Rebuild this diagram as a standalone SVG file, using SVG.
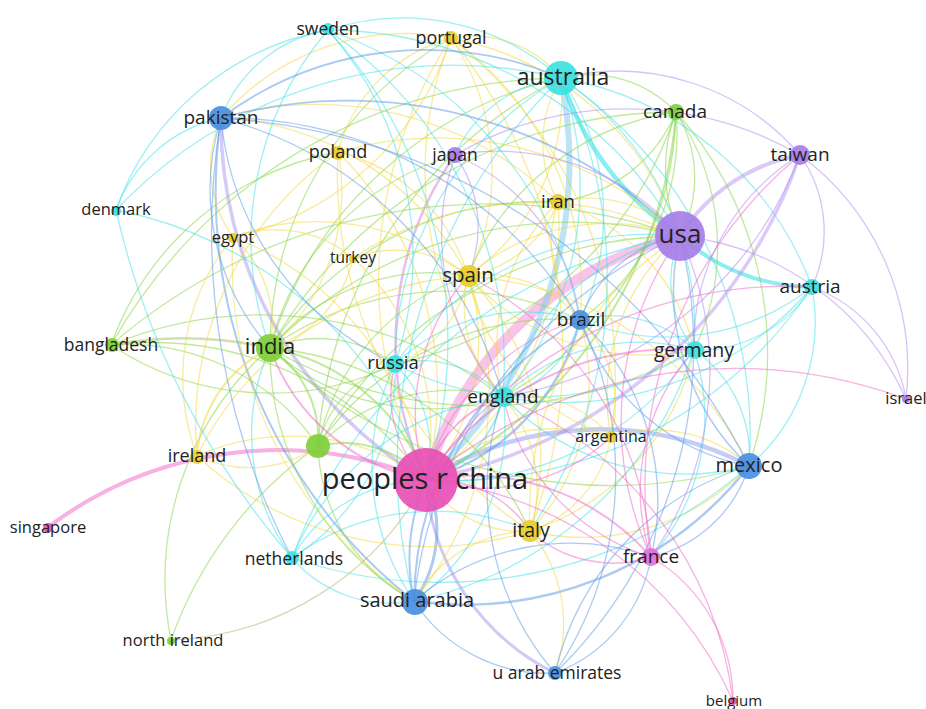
<svg xmlns="http://www.w3.org/2000/svg" width="926" height="709" viewBox="0 0 926 709">
<style>
.e path{fill:none;stroke-width:1.3;stroke-opacity:.5}
.g{stroke:#84d43c}.y{stroke:#f2d83a}.c{stroke:#3ee2ea}.b{stroke:#5a98e6}.p{stroke:#b088f0}.m{stroke:#f064c8}
.n circle{fill-opacity:.92}
.n text{font-family:"Open Sans","Liberation Sans",sans-serif;fill:#222;text-anchor:middle}
.cg{fill:#7fcf3a}.cy{fill:#e8cd2e}.cc{fill:#3fe0e0}.cb{fill:#4a8ee0}.cp{fill:#a67de8}.cm{fill:#e84fb4}.cf{fill:#e070e0}
</style>
<rect width="926" height="709" fill="#fff"/>
<g id="edges" class="e">
<path class="m" style="stroke-width:10;stroke-opacity:.38" d="M426,480A352,352 0 0 1 680,236"/>
<path style="stroke:#7cc8f0;stroke-width:6;stroke-opacity:.5" d="M561,78A424,424 0 0 1 426,480"/>
<path class="c" style="stroke-width:4.5;stroke-opacity:.6" d="M680,236A300,300 0 0 1 561,78"/>
<path class="c" style="stroke-width:4;stroke-opacity:.6" d="M812,287A200,200 0 0 1 680,236"/>
<path class="p" style="stroke-width:4;stroke-opacity:.45" d="M680,236A180,180 0 0 1 800,155"/>
<path class="p" style="stroke-width:3.5;stroke-opacity:.45" d="M800,155A495,495 0 0 1 426,480"/>
<path style="stroke:#b0a0f0;stroke-width:3.5;stroke-opacity:.55" d="M426,480A416,416 0 0 1 221,118"/>
<path class="m" style="stroke-width:4;stroke-opacity:.5" d="M47,528A382,382 0 0 1 426,480"/>
<path style="stroke:#8a9cf0;stroke-width:4.5;stroke-opacity:.5" d="M426,480A323,323 0 0 1 749,466"/>
<path class="b" style="stroke-width:2.5" d="M749,466A361,361 0 0 1 414,601"/>
<path style="stroke:#a8a0f0;stroke-width:3;stroke-opacity:.55" d="M555,673A232,232 0 0 1 426,480"/>
<path class="b" style="stroke-width:3" d="M426,480A121,121 0 0 1 414,601"/>
<path class="b" style="stroke-width:2" d="M414,601A520,520 0 0 1 221,118"/>
<path class="b" style="stroke-width:2.5" d="M580,320A222,222 0 0 1 426,480"/>
<path class="p" style="stroke-width:2.5;stroke:#d080e0" d="M426,480A326,326 0 0 1 455,155"/>
<path class="g" style="stroke-width:2" d="M270,348A204,204 0 0 1 426,480"/>
<path class="g" style="stroke-width:2.5;stroke:#a8c060" d="M111,345A400,400 0 0 1 270,348"/>
<path class="g" d="M270,348A128,128 0 0 1 395,364"/>
<path class="g" d="M270,348A211,211 0 0 1 468,276"/>
<path class="g" d="M270,348A425,425 0 0 1 680,236"/>
<path class="g" d="M270,348A470,470 0 0 1 676,112"/>
<path class="g" d="M270,348A397,397 0 0 1 561,78"/>
<path class="g" d="M503,397A238,238 0 0 1 270,348"/>
<path class="g" d="M270,348A311,311 0 0 1 580,320"/>
<path class="g" d="M414,601A291,291 0 0 1 270,348"/>
<path class="g" d="M270,348A318,318 0 0 1 530,531"/>
<path class="g" d="M694,350A424,424 0 0 1 270,348"/>
<path class="g" style="stroke-width:2" d="M270,348A109,109 0 0 1 318,446"/>
<path class="g" d="M270,348A267,267 0 0 1 455,155"/>
<path class="g" d="M270,348A323,323 0 0 1 558,202"/>
<path class="g" d="M749,466A493,493 0 0 1 270,348"/>
<path class="g" d="M270,348A359,359 0 0 1 451,38"/>
<path class="g" d="M171,640A308,308 0 0 1 270,348"/>
<path class="g" d="M171,640A400,400 0 0 1 318,446"/>
<path class="g" style="stroke:#b0b070" d="M426,480A301,301 0 0 1 171,640"/>
<path class="g" style="stroke-width:2" d="M318,446A110,110 0 0 1 426,480"/>
<path class="g" d="M318,446A112,112 0 0 1 395,364"/>
<path class="g" d="M318,446A191,191 0 0 1 503,397"/>
<path class="g" d="M318,446A418,418 0 0 1 680,236"/>
<path class="g" d="M414,601A182,182 0 0 1 318,446"/>
<path class="g" d="M318,446A227,227 0 0 1 468,276"/>
<path class="g" d="M318,446A291,291 0 0 1 580,320"/>
<path class="g" d="M318,446A441,441 0 0 1 561,78"/>
<path class="g" d="M111,345A343,343 0 0 1 426,480"/>
<path class="g" d="M111,345A395,395 0 0 1 503,397"/>
<path class="g" d="M111,345A579,579 0 0 1 680,236"/>
<path class="g" d="M395,364A285,285 0 0 1 111,345"/>
<path class="g" d="M111,345A523,523 0 0 1 561,78"/>
<path class="g" d="M111,345A230,230 0 0 1 318,446"/>
<path class="g" d="M111,345A300,300 0 0 1 338,152"/>
<path class="g" d="M676,112A124,124 0 0 1 680,236"/>
<path class="g" d="M680,236A160,160 0 0 1 676,112"/>
<path class="g" style="stroke-width:2" d="M676,112A445,445 0 0 1 426,480"/>
<path class="g" d="M561,78A120,120 0 0 1 676,112"/>
<path class="g" d="M676,112A229,229 0 0 1 580,320"/>
<path class="g" d="M676,112A239,239 0 0 1 694,350"/>
<path class="g" d="M468,276A265,265 0 0 1 676,112"/>
<path class="g" d="M676,112A361,361 0 0 1 749,466"/>
<path class="g" d="M676,112A333,333 0 0 1 503,397"/>
<path class="g" d="M676,112A148,148 0 0 1 558,202"/>
<path class="g" d="M676,112A377,377 0 0 1 395,364"/>
<path class="y" d="M468,276A208,208 0 0 1 426,480"/>
<path class="y" d="M468,276A213,213 0 0 1 680,236"/>
<path class="y" d="M561,78A219,219 0 0 1 468,276"/>
<path class="y" d="M468,276A120,120 0 0 1 580,320"/>
<path class="y" d="M468,276A262,262 0 0 1 530,531"/>
<path class="y" d="M503,397A126,126 0 0 1 468,276"/>
<path class="y" d="M468,276A114,114 0 0 1 395,364"/>
<path class="y" d="M451,38A238,238 0 0 1 468,276"/>
<path class="y" d="M558,202A118,118 0 0 1 468,276"/>
<path class="y" d="M468,276A339,339 0 0 1 749,466"/>
<path class="y" d="M694,350A238,238 0 0 1 468,276"/>
<path class="y" d="M468,276A329,329 0 0 1 414,601"/>
<path class="y" d="M221,118A293,293 0 0 1 468,276"/>
<path class="y" d="M197,456A325,325 0 0 1 468,276"/>
<path class="y" d="M233,237A238,238 0 0 1 468,276"/>
<path class="y" d="M530,531A115,115 0 0 1 426,480"/>
<path class="y" d="M530,531A331,331 0 0 1 680,236"/>
<path class="y" d="M580,320A217,217 0 0 1 530,531"/>
<path class="y" d="M503,397A137,137 0 0 1 530,531"/>
<path class="y" d="M414,601A135,135 0 0 1 530,531"/>
<path class="y" d="M749,466A228,228 0 0 1 530,531"/>
<path class="y" d="M530,531A341,341 0 0 1 197,456"/>
<path class="y" d="M451,38A499,499 0 0 1 530,531"/>
<path class="y" d="M611,437A122,122 0 0 1 530,531"/>
<path class="y" d="M530,531A145,145 0 0 1 555,673"/>
<path class="y" d="M694,350A244,244 0 0 1 530,531"/>
<path class="y" d="M558,202A124,124 0 0 1 561,78"/>
<path class="y" d="M558,202A129,129 0 0 1 680,236"/>
<path class="y" d="M558,202A308,308 0 0 1 426,480"/>
<path class="y" d="M221,118A347,347 0 0 1 558,202"/>
<path class="y" d="M580,320A120,120 0 0 1 558,202"/>
<path class="y" d="M558,202A201,201 0 0 1 694,350"/>
<path class="y" d="M503,397A203,203 0 0 1 558,202"/>
<path class="y" d="M451,38A115,115 0 0 1 561,78"/>
<path class="y" d="M426,480A443,443 0 0 1 451,38"/>
<path class="y" d="M451,38A310,310 0 0 1 580,320"/>
<path class="y" d="M451,38A303,303 0 0 1 680,236"/>
<path class="y" d="M221,118A243,243 0 0 1 451,38"/>
<path class="y" d="M451,38A295,295 0 0 1 233,237"/>
<path class="y" d="M503,397A363,363 0 0 1 451,38"/>
<path class="y" d="M338,152A340,340 0 0 1 426,480"/>
<path class="y" d="M338,152A180,180 0 0 1 468,276"/>
<path class="y" d="M530,531A425,425 0 0 1 338,152"/>
<path class="y" d="M338,152A161,161 0 0 1 451,38"/>
<path class="y" d="M338,152A352,352 0 0 1 680,236"/>
<path class="y" d="M197,456A335,335 0 0 1 338,152"/>
<path class="y" d="M338,152A207,207 0 0 1 270,348"/>
<path class="y" d="M233,237A310,310 0 0 1 426,480"/>
<path class="y" d="M414,601A406,406 0 0 1 233,237"/>
<path class="y" d="M233,237A120,120 0 0 1 221,118"/>
<path class="y" d="M233,237A122,122 0 0 1 353,258"/>
<path class="y" d="M197,456A222,222 0 0 1 233,237"/>
<path class="y" d="M233,237A117,117 0 0 1 270,348"/>
<path class="y" d="M353,258A234,234 0 0 1 426,480"/>
<path class="y" d="M353,258A117,117 0 0 1 468,276"/>
<path class="y" d="M353,258A329,329 0 0 1 680,236"/>
<path class="y" d="M353,258A122,122 0 0 1 270,348"/>
<path class="y" d="M197,456A231,231 0 0 1 426,480"/>
<path class="y" d="M318,446A121,121 0 0 1 197,456"/>
<path class="y" style="stroke-width:2.2" d="M197,456A130,130 0 0 1 270,348"/>
<path class="y" d="M426,480A190,190 0 0 1 611,437"/>
<path class="y" d="M611,437A215,215 0 0 1 468,276"/>
<path class="y" d="M611,437A140,140 0 0 1 749,466"/>
<path class="y" d="M580,320A120,120 0 0 1 611,437"/>
<path class="y" d="M503,397A115,115 0 0 1 611,437"/>
<path class="y" d="M611,437A212,212 0 0 1 680,236"/>
<path class="y" d="M451,38A430,430 0 0 1 611,437"/>
<path class="c" d="M221,118A139,139 0 0 1 328,30"/>
<path class="c" d="M116,210A278,278 0 0 1 328,30"/>
<path class="c" d="M328,30A238,238 0 0 1 561,78"/>
<path class="c" d="M328,30A460,460 0 0 1 426,480"/>
<path class="c" d="M328,30A407,407 0 0 1 503,397"/>
<path class="c" d="M270,348A323,323 0 0 1 328,30"/>
<path class="c" d="M328,30A341,341 0 0 1 395,364"/>
<path class="c" d="M328,30A384,384 0 0 1 580,320"/>
<path class="c" d="M328,30A408,408 0 0 1 680,236"/>
<path class="c" d="M116,210A144,144 0 0 1 221,118"/>
<path class="c" d="M116,210A464,464 0 0 1 561,78"/>
<path class="c" d="M116,210A411,411 0 0 1 426,480"/>
<path class="c" d="M292,558A800,800 0 0 1 116,210"/>
<path class="c" d="M561,78A324,324 0 0 1 503,397"/>
<path class="c" d="M561,78A243,243 0 0 1 580,320"/>
<path class="c" d="M561,78A303,303 0 0 1 694,350"/>
<path class="c" d="M414,601A543,543 0 0 1 561,78"/>
<path class="c" d="M561,78A431,431 0 0 1 749,466"/>
<path class="c" d="M561,78A327,327 0 0 1 812,287"/>
<path class="c" d="M455,155A131,131 0 0 1 561,78"/>
<path class="c" d="M395,364A331,331 0 0 1 561,78"/>
<path class="c" d="M561,78A454,454 0 0 1 530,531"/>
<path class="c" style="stroke-width:1.8" d="M503,397A113,113 0 0 1 426,480"/>
<path class="c" d="M503,397A239,239 0 0 1 680,236"/>
<path class="c" d="M580,320A110,110 0 0 1 503,397"/>
<path class="c" d="M503,397A197,197 0 0 1 694,350"/>
<path class="c" d="M749,466A255,255 0 0 1 503,397"/>
<path class="c" d="M503,397A215,215 0 0 1 414,601"/>
<path class="c" d="M395,364A110,110 0 0 1 503,397"/>
<path class="c" d="M812,287A328,328 0 0 1 503,397"/>
<path class="c" d="M395,364A120,120 0 0 1 426,480"/>
<path class="c" d="M395,364A312,312 0 0 1 680,236"/>
<path class="c" d="M694,350A300,300 0 0 1 395,364"/>
<path class="c" d="M395,364A189,189 0 0 1 580,320"/>
<path class="c" d="M414,601A238,238 0 0 1 395,364"/>
<path class="c" d="M395,364A220,220 0 0 1 292,558"/>
<path class="c" d="M694,350A115,115 0 0 1 680,236"/>
<path class="c" d="M694,350A298,298 0 0 1 426,480"/>
<path class="c" d="M580,320A117,117 0 0 1 694,350"/>
<path class="c" d="M694,350A128,128 0 0 1 749,466"/>
<path class="c" d="M812,287A134,134 0 0 1 694,350"/>
<path class="c" d="M694,350A376,376 0 0 1 414,601"/>
<path class="c" d="M694,350A211,211 0 0 1 651,557"/>
<path class="c" d="M812,287A234,234 0 0 1 580,320"/>
<path class="c" d="M812,287A432,432 0 0 1 426,480"/>
<path class="c" d="M812,287A190,190 0 0 1 749,466"/>
<path class="c" d="M292,558A155,155 0 0 1 426,480"/>
<path class="c" d="M414,601A130,130 0 0 1 292,558"/>
<path class="c" d="M292,558A240,240 0 0 1 530,531"/>
<path class="c" d="M292,558A265,265 0 0 1 503,397"/>
<path class="c" d="M292,558A504,504 0 0 1 680,236"/>
<path class="c" d="M749,466A466,466 0 0 1 292,558"/>
<path class="c" d="M292,558A211,211 0 0 1 270,348"/>
<path class="b" style="stroke-width:1.8" d="M221,118A341,341 0 0 1 561,78"/>
<path class="b" style="stroke-width:1.8" d="M221,118A474,474 0 0 1 680,236"/>
<path class="b" d="M221,118A397,397 0 0 1 503,397"/>
<path class="b" d="M221,118A412,412 0 0 1 580,320"/>
<path class="b" d="M395,364A301,301 0 0 1 221,118"/>
<path class="b" d="M270,348A240,240 0 0 1 221,118"/>
<path class="b" d="M221,118A632,632 0 0 1 749,466"/>
<path class="b" d="M292,558A700,700 0 0 1 221,118"/>
<path class="b" style="stroke-width:2" d="M414,601A326,326 0 0 1 580,320"/>
<path class="b" d="M580,320A131,131 0 0 1 680,236"/>
<path class="b" d="M749,466A223,223 0 0 1 580,320"/>
<path class="b" d="M580,320A354,354 0 0 1 555,673"/>
<path class="b" d="M580,320A247,247 0 0 1 651,557"/>
<path class="b" style="stroke-width:2" d="M414,601A200,200 0 0 1 426,480"/>
<path class="b" d="M414,601A452,452 0 0 1 680,236"/>
<path class="b" d="M555,673A158,158 0 0 1 414,601"/>
<path class="b" d="M414,601A241,241 0 0 1 651,557"/>
<path class="b" style="stroke-width:1.5" d="M749,466A240,240 0 0 1 680,236"/>
<path class="b" d="M555,673A284,284 0 0 1 749,466"/>
<path class="b" d="M749,466A134,134 0 0 1 651,557"/>
<path class="b" d="M651,557A151,151 0 0 1 555,673"/>
<path class="b" d="M555,673A281,281 0 0 1 503,397"/>
<path class="b" d="M680,236A454,454 0 0 1 555,673"/>
<path class="p" d="M455,155A239,239 0 0 1 680,236"/>
<path class="p" d="M680,236A279,279 0 0 1 906,399"/>
<path class="p" d="M680,236A322,322 0 0 1 651,557"/>
<path class="p" d="M800,155A133,133 0 0 1 812,287"/>
<path class="p" d="M800,155A266,266 0 0 1 906,399"/>
<path class="p" d="M561,78A240,240 0 0 1 800,155"/>
<path class="p" d="M694,350A222,222 0 0 1 800,155"/>
<path class="p" d="M800,155A383,383 0 0 1 503,397"/>
<path class="p" d="M455,155A345,345 0 0 1 800,155"/>
<path class="p" d="M455,155A207,207 0 0 1 580,320"/>
<path class="p" d="M455,155A124,124 0 0 1 468,276"/>
<path class="p" d="M503,397A245,245 0 0 1 455,155"/>
<path class="p" d="M812,287A146,146 0 0 1 906,399"/>
<path class="m" d="M426,480A487,487 0 0 1 906,399"/>
<path class="m" style="stroke-width:2" d="M426,480A204,204 0 0 1 270,348"/>
<path class="m" style="stroke-width:2" d="M426,480A113,113 0 0 1 503,397"/>
<path class="m" style="stroke-width:1.5" d="M426,480A115,115 0 0 1 530,531"/>
<path class="m" style="stroke-width:2" d="M426,480A238,238 0 0 1 651,557"/>
<path class="m" d="M426,480A222,222 0 0 1 580,320"/>
<path class="m" style="stroke-width:2" d="M426,480A298,298 0 0 1 694,350"/>
<path class="m" d="M426,480A432,432 0 0 1 812,287"/>
<path class="m" d="M426,480A120,120 0 0 1 395,364"/>
<path class="m" d="M426,480A208,208 0 0 1 468,276"/>
<path class="m" d="M611,437A190,190 0 0 1 426,480"/>
<path class="m" d="M426,480A378,378 0 0 1 733,701"/>
<path class="m" d="M651,557A166,166 0 0 1 733,701"/>
<path class="m" d="M503,397A381,381 0 0 1 733,701"/>
<path class="m" style="stroke-width:1.5" d="M651,557A123,123 0 0 1 530,531"/>
<path class="m" d="M651,557A322,322 0 0 1 680,236"/>
<path class="m" d="M651,557A211,211 0 0 1 694,350"/>
<path class="m" d="M651,557A218,218 0 0 1 503,397"/>
<path class="m" d="M468,276A335,335 0 0 1 651,557"/>
<path class="m" d="M651,557A429,429 0 0 1 800,155"/>
</g>
<g id="node-sweden" class="n"><circle class="cc" cx="328" cy="29" r="6"/><text x="328" y="35" font-size="17.5">sweden</text></g>
<g id="node-portugal" class="n"><circle class="cy" cx="451" cy="38" r="7"/><text x="451" y="44" font-size="18">portugal</text></g>
<g id="node-australia" class="n"><circle class="cc" cx="561" cy="78" r="17"/><text x="563" y="85" font-size="23">australia</text></g>
<g id="node-pakistan" class="n"><circle class="cb" cx="221" cy="118" r="12"/><text x="221" y="124" font-size="19">pakistan</text></g>
<g id="node-canada" class="n"><circle class="cg" cx="676" cy="112" r="8"/><text x="675" y="118" font-size="19">canada</text></g>
<g id="node-taiwan" class="n"><circle class="cp" cx="800" cy="155" r="10"/><text x="800" y="161" font-size="19">taiwan</text></g>
<g id="node-poland" class="n"><circle class="cy" cx="338" cy="153" r="7"/><text x="338" y="158" font-size="18">poland</text></g>
<g id="node-japan" class="n"><circle class="cp" cx="455" cy="155" r="8"/><text x="455" y="161" font-size="17.5">japan</text></g>
<g id="node-denmark" class="n"><circle class="cc" cx="116" cy="211" r="5"/><text x="116" y="215" font-size="16.5">denmark</text></g>
<g id="node-iran" class="n"><circle class="cy" cx="558" cy="202" r="8"/><text x="558" y="208" font-size="18.5">iran</text></g>
<g id="node-egypt" class="n"><circle class="cy" cx="233" cy="238" r="5"/><text x="233" y="243" font-size="16.5">egypt</text></g>
<g id="node-usa" class="n"><circle class="cp" cx="680" cy="236" r="25"/><text x="680" y="243" font-size="26">usa</text></g>
<g id="node-turkey" class="n"><circle class="cy" cx="353" cy="259" r="4"/><text x="353" y="263" font-size="15.5">turkey</text></g>
<g id="node-spain" class="n"><circle class="cy" cx="469" cy="276" r="11"/><text x="468" y="282" font-size="20.5">spain</text></g>
<g id="node-austria" class="n"><circle class="cc" cx="812" cy="287" r="8"/><text x="810" y="293" font-size="19">austria</text></g>
<g id="node-brazil" class="n"><circle class="cb" cx="580" cy="320" r="10"/><text x="581" y="326" font-size="19">brazil</text></g>
<g id="node-bangladesh" class="n"><circle class="cg" cx="112" cy="345" r="7"/><text x="111" y="351" font-size="17.5">bangladesh</text></g>
<g id="node-india" class="n"><circle class="cg" cx="270" cy="348" r="14"/><text x="270" y="354" font-size="22">india</text></g>
<g id="node-germany" class="n"><circle class="cc" cx="695" cy="350" r="9"/><text x="694" y="357" font-size="19.5">germany</text></g>
<g id="node-russia" class="n"><circle class="cc" cx="395" cy="364" r="9"/><text x="393" y="369" font-size="18.5">russia</text></g>
<g id="node-england" class="n"><circle class="cc" cx="504" cy="397" r="10"/><text x="503" y="403" font-size="19">england</text></g>
<g id="node-israel" class="n"><circle class="cp" cx="906" cy="399" r="4"/><text x="906" y="404" font-size="16.5">israel</text></g>
<g id="node-argentina" class="n"><circle class="cy" cx="611" cy="437" r="6"/><text x="611" y="442" font-size="16">argentina</text></g>
<g id="node-unlabeled" class="n"><circle class="cg" cx="318" cy="446" r="12"/></g>
<g id="node-ireland" class="n"><circle class="cy" cx="197" cy="457" r="7"/><text x="197" y="462" font-size="18">ireland</text></g>
<g id="node-mexico" class="n"><circle class="cb" cx="749" cy="466" r="13"/><text x="749" y="472" font-size="20">mexico</text></g>
<g id="node-china" class="n"><circle class="cm" cx="426" cy="480" r="32"/><text x="425" y="489" font-size="29">peoples r china</text></g>
<g id="node-singapore" class="n"><circle class="cm" cx="48" cy="528" r="5"/><text x="48" y="533" font-size="16.5">singapore</text></g>
<g id="node-italy" class="n"><circle class="cy" cx="530" cy="531" r="11"/><text x="531" y="537" font-size="19.5">italy</text></g>
<g id="node-france" class="n"><circle class="cf" cx="651" cy="557" r="9"/><text x="651" y="563" font-size="19">france</text></g>
<g id="node-netherlands" class="n"><circle class="cc" cx="292" cy="558" r="7"/><text x="294" y="565" font-size="17.5">netherlands</text></g>
<g id="node-saudi-arabia" class="n"><circle class="cb" cx="415" cy="602" r="13"/><text x="417" y="607" font-size="20">saudi arabia</text></g>
<g id="node-north-ireland" class="n"><circle class="cg" cx="171" cy="641" r="4"/><text x="173" y="646" font-size="16.5">north ireland</text></g>
<g id="node-uae" class="n"><circle class="cb" cx="555" cy="673" r="7"/><text x="557" y="679" font-size="17.5">u arab emirates</text></g>
<g id="node-belgium" class="n"><circle class="cm" cx="733" cy="701" r="4"/><text x="734" y="706" font-size="15">belgium</text></g>
</svg>
